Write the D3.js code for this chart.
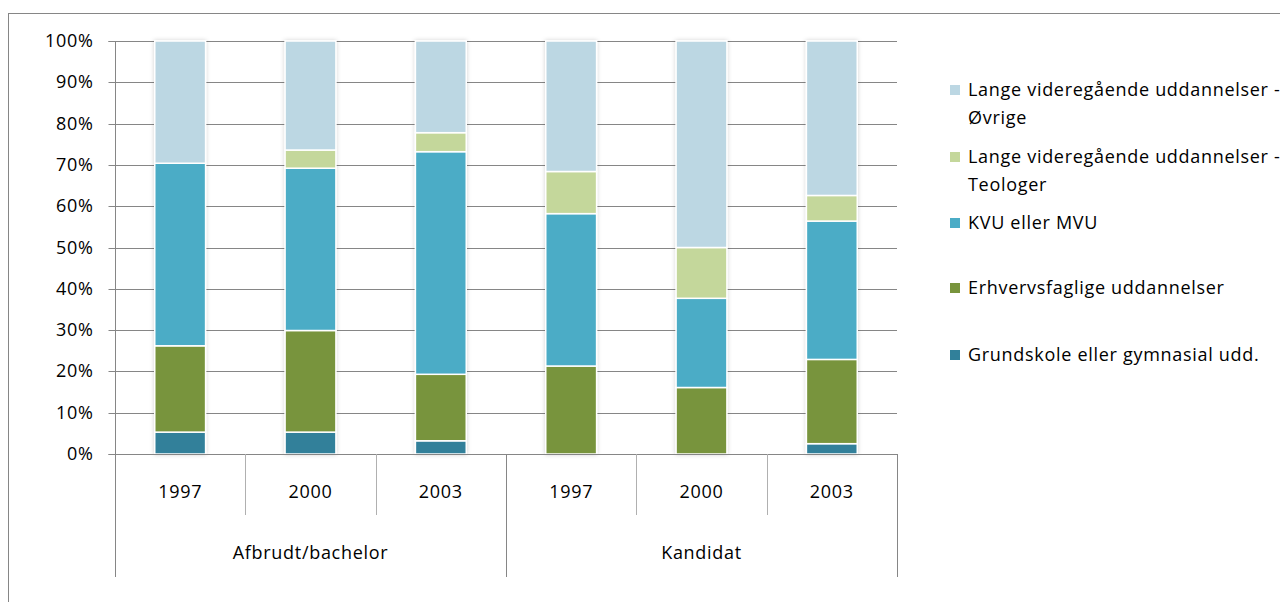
<!DOCTYPE html>
<html><head><meta charset="utf-8">
<script src="https://cdn.jsdelivr.net/npm/d3@7"></script>
<style>body{margin:0;background:#fff}svg{display:block}text{font-family:"Open Sans",sans-serif;fill:#000;letter-spacing:0.7px}</style>
</head><body>
<svg id="c" width="1280" height="602"></svg>
<script>
const groups = ["Afbrudt/bachelor", "Kandidat"];
const years = ["1997", "2000", "2003"];
const categories = ["A-1997","A-2000","A-2003","K-1997","K-2000","K-2003"];
const seriesNames = ["Grundskole eller gymnasial  udd.", "Erhvervsfaglige uddannelser", "KVU eller MVU", "Lange videregående uddannelser - Teologer", "Lange videregående uddannelser - Øvrige"];
const grundskole = [5.3, 5.3, 3.2, 0, 0, 2.5];
const erhverv = [20.9, 24.6, 16.1, 21.3, 16.1, 20.4];
const kvu = [44.2, 39.3, 53.9, 36.9, 21.6, 33.5];
const teologer = [0, 4.4, 4.6, 10.2, 12.3, 6.2];
const ovrige = [29.6, 26.4, 22.2, 31.6, 50.0, 37.4];
const yTicks = [0,10,20,30,40,50,60,70,80,90,100];
const colors = ["#31809A", "#78943C", "#4BACC6", "#C4D79B", "#BCD7E3"];
const legendLines = [["Lange videregående uddannelser -","Øvrige"],["Lange videregående uddannelser -","Teologer"],["KVU eller MVU"],["Erhvervsfaglige uddannelser"],["Grundskole eller gymnasial  udd."]];

const svg = d3.select("#c");
const defs = svg.append("defs");
const f = defs.append("filter").attr("id","sh").attr("x","-20%").attr("y","-5%").attr("width","140%").attr("height","110%");
f.append("feDropShadow").attr("dx",0).attr("dy",0).attr("stdDeviation",2).attr("flood-color","#000").attr("flood-opacity",0.18);

svg.append("rect").attr("x",8.5).attr("y",13.5).attr("width",1290).attr("height",620).attr("fill","none").attr("stroke","#868686");

const L=115, R=897, T=41, B=454;
const x = d3.scaleBand().domain(categories).range([L,R]).paddingInner(0.61).paddingOuter(0.305);
const y = d3.scaleLinear().domain([0,100]).range([B,T]);

// gridlines
svg.append("g").selectAll("line").data(yTicks.filter(d=>d>0)).join("line")
  .attr("x1",L).attr("x2",R).attr("y1",d=>Math.round(y(d))+0.5).attr("y2",d=>Math.round(y(d))+0.5)
  .attr("stroke","#868686").attr("stroke-width",1);

// y axis
const ya = svg.append("g").attr("transform",`translate(${L+0.5},0.5)`)
  .call(d3.axisLeft(y).tickValues(yTicks).tickFormat(d=>d+"%").tickSize(7).tickPadding(15));
ya.select(".domain").attr("stroke","#868686").attr("d",`M-7,${y(0)}H0V${y(100)}H-7`);
ya.selectAll(".tick line").attr("stroke","#868686");
ya.selectAll(".tick").attr("transform",d=>`translate(0,${Math.round(y(d))})`);
ya.selectAll("text").style("font-size","18px").attr("fill","#000").attr("font-family",null);

// stacked bars
const table = categories.map((c,i)=>({cat:c, s0:grundskole[i], s1:erhverv[i], s2:kvu[i], s3:teologer[i], s4:ovrige[i]}));
const stack = d3.stack().keys(["s0","s1","s2","s3","s4"])(table);
const bars = svg.append("g").attr("filter","url(#sh)");
stack.forEach((layer,k)=>{
  bars.selectAll(null).data(layer.filter(d=>d[1]-d[0]>0)).join("rect")
    .attr("x",d=>x(d.data.cat)).attr("width",x.bandwidth())
    .attr("y",d=>y(d[1])).attr("height",d=>y(d[0])-y(d[1]))
    .attr("fill",colors[k]).attr("stroke","#fff").attr("stroke-width",1.5);
});

// x axis
const step = x.step();
svg.append("line").attr("x1",L).attr("x2",R).attr("y1",B+0.5).attr("y2",B+0.5).attr("stroke","#868686");
const bounds = d3.range(categories.length+1).map(i=>L+i*step);
svg.append("g").selectAll("line").data(bounds).join("line")
  .attr("x1",d=>Math.round(d)+0.5).attr("x2",d=>Math.round(d)+0.5)
  .attr("y1",B).attr("y2",(d,i)=> (i%3===0)?577:515)
  .attr("stroke",(d,i)=> (i%3===0)?"#868686":"#b0b0b0");
svg.append("g").selectAll("text").data(categories).join("text")
  .attr("x",d=>x(d)+x.bandwidth()/2).attr("y",492).attr("dy","0.35em")
  .attr("text-anchor","middle").style("font-size","18px")
  .text((d,i)=>years[i%3]);
svg.append("g").selectAll("text").data(groups).join("text")
  .attr("x",(d,i)=>L+step*(i*3+1.5)).attr("y",553).attr("dy","0.35em")
  .attr("text-anchor","middle").style("font-size","18px").text(d=>d);

// legend
const legY = [90, 157, 223, 288, 355];
const leg = svg.append("g");
[4,3,2,1,0].forEach((k,i)=>{
  const g = leg.append("g").attr("transform",`translate(950,${legY[i]})`);
  g.append("rect").attr("x",0).attr("y",-5).attr("width",10).attr("height",10).attr("fill",colors[k]);
  legendLines[i].forEach((t,j)=>{
    g.append("text").attr("x",18).attr("y",j*28).attr("dy","0.35em").style("font-size","18px").text(t);
  });
});
</script>
</body></html>
